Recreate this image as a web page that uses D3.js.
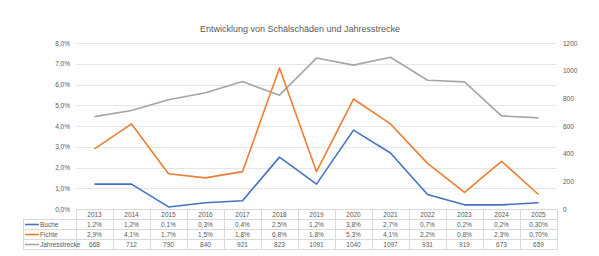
<!DOCTYPE html>
<html>
<head>
<meta charset="utf-8">
<script src="https://cdn.jsdelivr.net/npm/d3@7"></script>
<style>
  body { margin: 0; background: #fff; }
  svg { display: block; font-family: "Liberation Sans", "DejaVu Sans", sans-serif; }
</style>
</head>
<body>
<div id="chart"></div>
<script>
// Daten
const years = ["2013", "2014", "2015", "2016", "2017", "2018", "2019", "2020", "2021", "2022", "2023", "2024", "2025"];
const buche = [1.2, 1.2, 0.1, 0.3, 0.4, 2.5, 1.2, 3.8, 2.7, 0.7, 0.2, 0.2, 0.3];
const fichte = [2.9, 4.1, 1.7, 1.5, 1.8, 6.8, 1.8, 5.3, 4.1, 2.2, 0.8, 2.3, 0.7];
const jahresstrecke = [668, 712, 790, 840, 921, 823, 1091, 1040, 1097, 931, 919, 673, 659];
const bucheLabels = ["1,2%", "1,2%", "0,1%", "0,3%", "0,4%", "2,5%", "1,2%", "3,8%", "2,7%", "0,7%", "0,2%", "0,2%", "0,30%"];
const fichteLabels = ["2,9%", "4,1%", "1,7%", "1,5%", "1,8%", "6,8%", "1,8%", "5,3%", "4,1%", "2,2%", "0,8%", "2,3%", "0,70%"];
const leftTicks = [0, 1, 2, 3, 4, 5, 6, 7, 8];
const rightTicks = [0, 200, 400, 600, 800, 1000, 1200];

const width = 599, height = 256;
const plot = { left: 76, right: 557, top: 43, bottom: 209 };

const svg = d3.select("#chart").append("svg")
    .attr("width", width)
    .attr("height", height);

// Titel
svg.append("text")
    .attr("x", 300)
    .attr("y", 32)
    .attr("text-anchor", "middle")
    .style("font-size", "9px")
    .style("fill", "#595959")
    .text("Entwicklung von Schälschäden und Jahresstrecke");

const x = d3.scaleBand().domain(years).range([plot.left, plot.right]);
const yLeft = d3.scaleLinear().domain([0, 8]).range([plot.bottom, plot.top]);
const yRight = d3.scaleLinear().domain([0, 1200]).range([plot.bottom, plot.top]);

// Gitterlinien
svg.append("g")
    .selectAll("line")
    .data(leftTicks)
    .join("line")
    .attr("x1", plot.left)
    .attr("x2", plot.right)
    .attr("y1", d => Math.round(yLeft(d)) + 0.5)
    .attr("y2", d => Math.round(yLeft(d)) + 0.5)
    .style("stroke", "#e6e6e6")
    .style("stroke-width", "1px");

// linke Achse
svg.append("g")
    .selectAll("text")
    .data(leftTicks)
    .join("text")
    .attr("x", 70)
    .attr("y", d => yLeft(d))
    .attr("text-anchor", "end")
    .attr("dominant-baseline", "central")
    .style("font-size", "6.5px")
    .style("fill", "#595959")
    .text(d => d.toFixed(1).replace(".", ",") + "%");

// rechte Achse
svg.append("g")
    .selectAll("text")
    .data(rightTicks)
    .join("text")
    .attr("x", 563)
    .attr("y", d => yRight(d))
    .attr("text-anchor", "start")
    .attr("dominant-baseline", "central")
    .style("font-size", "6.5px")
    .style("fill", "#595959")
    .text(d => d);

const cx = d => x(d) + x.bandwidth() / 2;

const series = [
    { name: "Buche", values: buche, labels: bucheLabels, color: "#4472C4", y: yLeft },
    { name: "Fichte", values: fichte, labels: fichteLabels, color: "#ED7D31", y: yLeft },
    { name: "Jahresstrecke", values: jahresstrecke, labels: jahresstrecke.map(String), color: "#A5A5A5", y: yRight }
];

// Linien (Jahresstrecke zuerst, dahinter)
[series[2], series[0], series[1]].forEach(s => {
    const line = d3.line()
        .x((d, i) => cx(years[i]))
        .y(d => s.y(d));
    svg.append("path")
        .datum(s.values)
        .attr("d", line)
        .style("fill", "none")
        .style("stroke", s.color)
        .style("stroke-width", "1.6px")
        .style("stroke-linejoin", "round");
});

// Datentabelle
const rowTop = 209.5;
const rowH = 10;
const legendLeft = 23;
const tbl = svg.append("g");
const gridColor = "#d9d9d9";

// horizontale Linien
for (let r = 0; r <= 4; r++) {
    const yy = rowTop + r * rowH;
    tbl.append("line")
        .attr("x1", r === 0 ? plot.left : legendLeft)
        .attr("x2", plot.right)
        .attr("y1", yy).attr("y2", yy)
        .style("stroke", gridColor).style("stroke-width", "1px");
}
// vertikale Linien
years.forEach(yr => {
    const xx = Math.round(x(yr)) + 0.5;
    tbl.append("line")
        .attr("x1", xx).attr("x2", xx)
        .attr("y1", rowTop).attr("y2", rowTop + 4 * rowH)
        .style("stroke", gridColor).style("stroke-width", "1px");
});
tbl.append("line")
    .attr("x1", plot.right + 0.5).attr("x2", plot.right + 0.5)
    .attr("y1", rowTop).attr("y2", rowTop + 4 * rowH)
    .style("stroke", gridColor).style("stroke-width", "1px");
tbl.append("line")
    .attr("x1", legendLeft + 0.5).attr("x2", legendLeft + 0.5)
    .attr("y1", rowTop + rowH).attr("y2", rowTop + 4 * rowH)
    .style("stroke", gridColor).style("stroke-width", "1px");

// Kopfzeile Jahre
tbl.selectAll("text.yr")
    .data(years)
    .join("text")
    .attr("class", "yr")
    .attr("x", d => cx(d))
    .attr("y", rowTop + rowH / 2)
    .attr("text-anchor", "middle")
    .attr("dominant-baseline", "central")
    .style("font-size", "6.5px")
    .style("fill", "#595959")
    .text(d => d);

// Datenzeilen
series.forEach((s, r) => {
    const yy = rowTop + (r + 1) * rowH + rowH / 2;
    tbl.append("line")
        .attr("x1", 25).attr("x2", 39)
        .attr("y1", yy).attr("y2", yy)
        .style("stroke", s.color).style("stroke-width", "1.6px");
    tbl.append("text")
        .attr("x", 40)
        .attr("y", yy)
        .attr("dominant-baseline", "central")
        .style("font-size", "6.5px")
        .style("fill", "#595959")
        .text(s.name);
    tbl.selectAll("text.v" + r)
        .data(s.labels)
        .join("text")
        .attr("class", "v" + r)
        .attr("x", (d, i) => cx(years[i]))
        .attr("y", yy)
        .attr("text-anchor", "middle")
        .attr("dominant-baseline", "central")
        .style("font-size", "6.5px")
        .style("fill", "#595959")
        .text(d => d);
});
</script>
</body>
</html>
